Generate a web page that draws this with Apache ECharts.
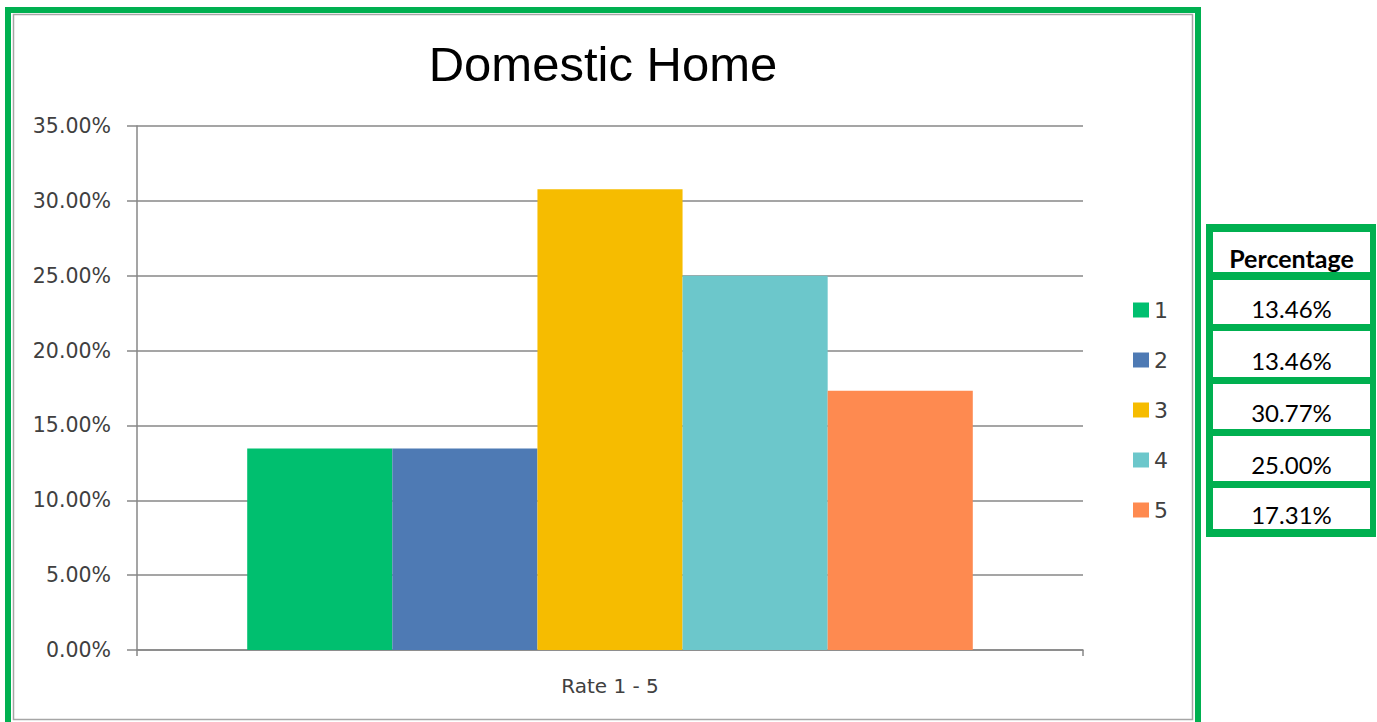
<!DOCTYPE html>
<html>
<head>
<meta charset="utf-8">
<script src="https://cdn.jsdelivr.net/npm/echarts@6/dist/echarts.min.js"></script>
<style>
html,body{margin:0;padding:0;background:#fff;}
#chart{width:1377px;height:722px;}
</style>
</head>
<body>
<div id="chart"></div>
<script>
const chartTitle = 'Domestic Home';
const categories = ['Rate 1 - 5'];
const seriesNames = ['1', '2', '3', '4', '5'];
const seriesValues = [13.46, 13.46, 30.77, 25.00, 17.31];
const seriesColors = ['#00BF6F', '#4E7AB4', '#F6BC00', '#6CC7CB', '#FE8A50'];
const tableHeader = 'Percentage';
const tableValues = ['13.46%', '13.46%', '30.77%', '25.00%', '17.31%'];

const chart = echarts.init(document.getElementById('chart'), null, {renderer: 'svg'});

const axisGray = '#878787';
const textGray = '#404040';

const series = seriesNames.map((n, i) => ({
  name: n,
  type: 'bar',
  data: [seriesValues[i]],
  itemStyle: {color: seriesColors[i]},
  barGap: '0%',
  barCategoryGap: '23.3%',
  animation: false
}));

// table graphics
const rowBounds = [[232, 272], [280, 324], [331, 377], [384, 429], [436, 481], [488, 529]];
const tableGraphics = [{
  type: 'rect', shape: {x: 1206, y: 224, width: 170, height: 313}, style: {fill: '#00B050'}
}];
const tableTexts = [tableHeader].concat(tableValues);
rowBounds.forEach((b, i) => {
  tableGraphics.push({type: 'rect', shape: {x: 1213, y: b[0], width: 157, height: b[1] - b[0]}, style: {fill: '#fff'}});
  tableGraphics.push({
    type: 'text', x: 1291.5, y: (b[0] + b[1]) / 2 + 6,
    style: {
      text: tableTexts[i], fill: '#000', align: 'center', verticalAlign: 'middle',
      font: (i === 0 ? 'bold 25px Lato' : '24px Lato')
    }
  });
});

const option = {
  backgroundColor: '#fff',
  animation: false,
  graphic: [
    {type: 'rect', shape: {x: 8, y: 10, width: 1190, height: 740}, style: {fill: 'none', stroke: '#00B050', lineWidth: 6}},
    {type: 'rect', shape: {x: 13.5, y: 14.5, width: 1179, height: 705}, style: {fill: 'none', stroke: '#A6A6A6', lineWidth: 1.5}},
    {type: 'text', x: 603, y: 64, style: {text: chartTitle, fill: '#000', align: 'center', verticalAlign: 'middle', font: '49px "Liberation Sans"'}}
  ].concat(tableGraphics),
  legend: {
    orient: 'vertical',
    left: 1128,
    top: 294,
    itemWidth: 16,
    itemHeight: 15,
    itemGap: 28,
    icon: 'rect',
    textStyle: {fontFamily: 'DejaVu Sans', fontSize: 22, lineHeight: 22, color: textGray},
    data: seriesNames
  },
  grid: {left: 137, right: 294, top: 126, bottom: 72, containLabel: false},
  xAxis: {
    type: 'category',
    data: categories,
    axisLine: {lineStyle: {color: axisGray, width: 1.5}},
    axisTick: {show: true, length: 6, lineStyle: {color: axisGray, width: 1.5}},
    axisLabel: {color: textGray, fontFamily: 'DejaVu Sans', fontSize: 20, margin: 26}
  },
  yAxis: {
    type: 'value',
    min: 0, max: 35, interval: 5,
    axisLine: {show: true, lineStyle: {color: axisGray, width: 1.5}},
    axisTick: {show: true, length: 10, lineStyle: {color: axisGray, width: 1.5}},
    splitLine: {lineStyle: {color: axisGray, width: 1.5}},
    axisLabel: {color: textGray, fontFamily: 'DejaVu Sans', fontSize: 20.5, margin: 26,
      formatter: v => v.toFixed(2) + '%'}
  },
  series: series
};
chart.setOption(option);
</script>
</body>
</html>
